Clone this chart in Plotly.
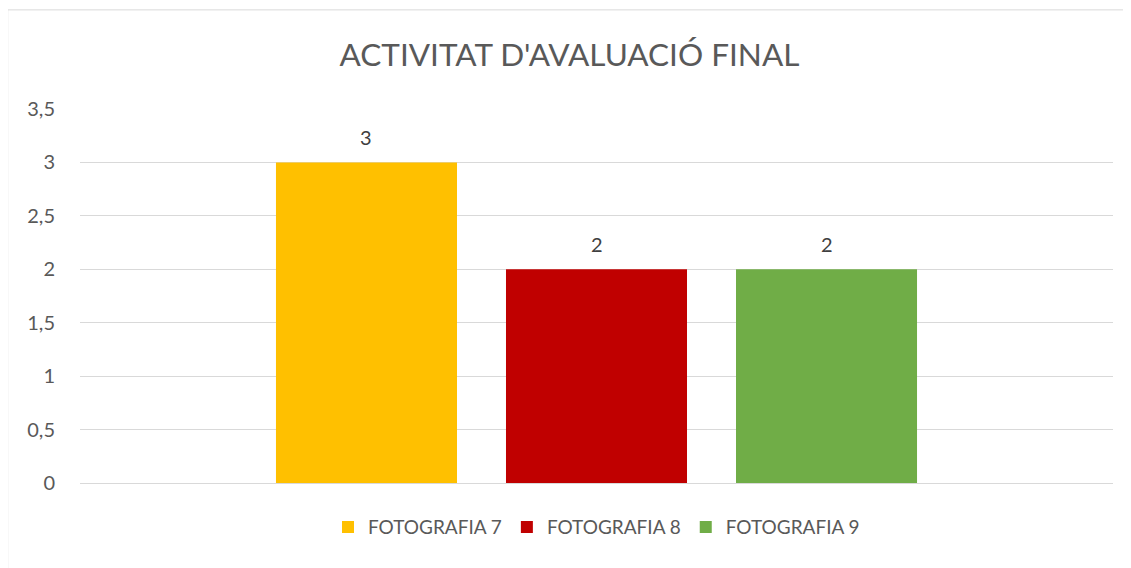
import plotly.graph_objects as go

categories = [""]
series_names = ["FOTOGRAFIA 7", "FOTOGRAFIA 8", "FOTOGRAFIA 9"]
series_values = [[3], [2], [2]]
colors = ["#FFC000", "#C00000", "#70AD47"]
tick_vals = [0, 0.5, 1, 1.5, 2, 2.5, 3, 3.5]
tick_text = ["0", "0,5", "1", "1,5", "2", "2,5", "3", "3,5"]

FONT = "Lato, 'Open Sans', sans-serif"
BARGAP = 0.332
BARGROUPGAP = 0.213

fig = go.Figure()
for name, vals, col in zip(series_names, series_values, colors):
    fig.add_trace(go.Bar(
        x=categories, y=vals, name=name, marker=dict(color=col, line=dict(width=0)),
    ))

# data labels placed over each bar of the group
n = len(series_names)
slot = (1 - BARGAP) / n
annotations = []
for i, vals in enumerate(series_values):
    for j, v in enumerate(vals):
        annotations.append(dict(
            x=j - (1 - BARGAP) / 2 + slot * (i + 0.5), y=v, xref="x", yref="y",
            text=str(v), showarrow=False, yanchor="middle", yshift=25,
            font=dict(size=20, color="#404040", family=FONT),
        ))

fig.update_layout(
    width=1123, height=560,
    margin=dict(l=72, r=18, t=101, b=85),
    paper_bgcolor="white", plot_bgcolor="white",
    barmode="group", bargap=BARGAP, bargroupgap=BARGROUPGAP,
    title=dict(text="ACTIVITAT D'AVALUACIÓ FINAL", x=0.5, xanchor="center",
               y=0.916, yanchor="middle",
               font=dict(size=31.5, color="#595959", family=FONT)),
    font=dict(family=FONT, color="#595959", size=19),
    xaxis=dict(showticklabels=False, showgrid=False, zeroline=False,
               showline=False, ticks="", range=[-0.5, 0.5]),
    yaxis=dict(range=[0, 3.5], tickvals=tick_vals, ticktext=tick_text,
               showgrid=True, gridcolor="#D9D9D9", gridwidth=1,
               zeroline=True, zerolinecolor="#D9D9D9", zerolinewidth=1,
               showline=False, ticks="", ticklabelstandoff=24,
               tickfont=dict(size=20, color="#595959", family=FONT)),
    legend=dict(orientation="h", x=0.5, xanchor="center", y=-0.118, yanchor="middle",
                font=dict(size=19, color="#595959", family=FONT),
                itemwidth=30, traceorder="normal"),
    showlegend=True,
    annotations=annotations,
    shapes=[
        dict(type="line", xref="paper", yref="paper", x0=-0.07, x1=1.03,
             y0=1.265, y1=1.265, line=dict(color="#D9D9D9", width=1)),
        dict(type="line", xref="paper", yref="paper", x0=-0.07, x1=-0.07,
             y0=1.265, y1=-0.3, line=dict(color="#D9D9D9", width=1)),
    ],
)

fig.write_html("out.html")
